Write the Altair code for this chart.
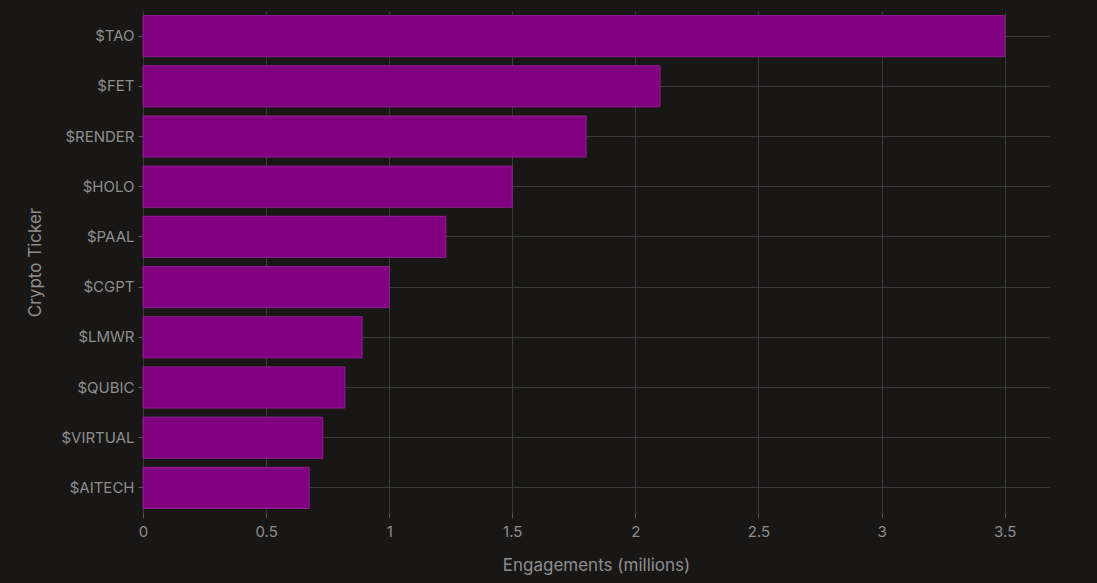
import altair as alt
import pandas as pd
import jinja2

tickers = ["$TAO", "$FET", "$RENDER", "$HOLO", "$PAAL", "$CGPT", "$LMWR", "$QUBIC", "$VIRTUAL", "$AITECH"]
engagements = [3.5, 2.1, 1.8, 1.5, 1.23, 1.0, 0.89, 0.82, 0.73, 0.675]
x_ticks = [0, 0.5, 1, 1.5, 2, 2.5, 3, 3.5]

df = pd.DataFrame({"ticker": tickers, "eng": engagements})

FONT = "Inter"
GREY = "#8e8e8e"
GRID = "#3a3a3a"
BG = "#181716"

chart = alt.Chart(df).mark_bar(
    color="#800080", stroke="#921c92", strokeWidth=1
).encode(
    x=alt.X("eng:Q", scale=alt.Scale(domain=[0, 3.68], nice=False),
            axis=alt.Axis(title="Engagements (millions)", values=x_ticks,
                          format="~g", labelFlush=False,
                          titleX=453, titleY=52, titleBaseline="middle",
                          titleAlign="center", labelPadding=6)),
    y=alt.Y("ticker:N", sort=tickers, scale=alt.Scale(paddingInner=0.18, paddingOuter=0.09),
            axis=alt.Axis(title="Crypto Ticker", titleX=-108, titleY=251,
                          titleAlign="center", titleBaseline="middle", titleAngle=270,
                          labelPadding=4)),
).properties(
    width=906, height=502,
    background=BG,
    autosize=alt.AutoSizeParams(type="none"),
    padding={"left": 135, "top": 3, "right": 40, "bottom": 70},
).configure_view(stroke=None).configure_axis(
    labelFont=FONT, titleFont=FONT, labelColor=GREY, titleColor=GREY,
    labelFontSize=15, titleFontSize=17, titleFontWeight="normal",
    gridColor=GRID, gridWidth=1, tickColor="#5a5a5a", tickSize=5,
    domain=False, grid=True,
)

TEMPLATE = jinja2.Template("""<!DOCTYPE html>
<html>
<head>
  <style>body { background: """ + BG + """; }</style>
  <script type="text/javascript" src="{{ base_url }}/vega@{{ vega_version }}"></script>
  <script type="text/javascript" src="{{ base_url }}/vega-lite@{{ vegalite_version }}"></script>
  <script type="text/javascript" src="{{ base_url }}/vega-embed@{{ vegaembed_version }}"></script>
</head>
<body>
  <div id="{{ output_div }}"></div>
  <script>
    (function(vegaEmbed) {
      var spec = {{ spec }};
      var embedOpt = {{ embed_options }};
      vegaEmbed("#{{ output_div }}", spec, embedOpt).catch(console.error);
    })(vegaEmbed);
  </script>
</body>
</html>
""")

chart.save("out.html", embed_options={"renderer": "svg", "actions": False}, template=TEMPLATE)
